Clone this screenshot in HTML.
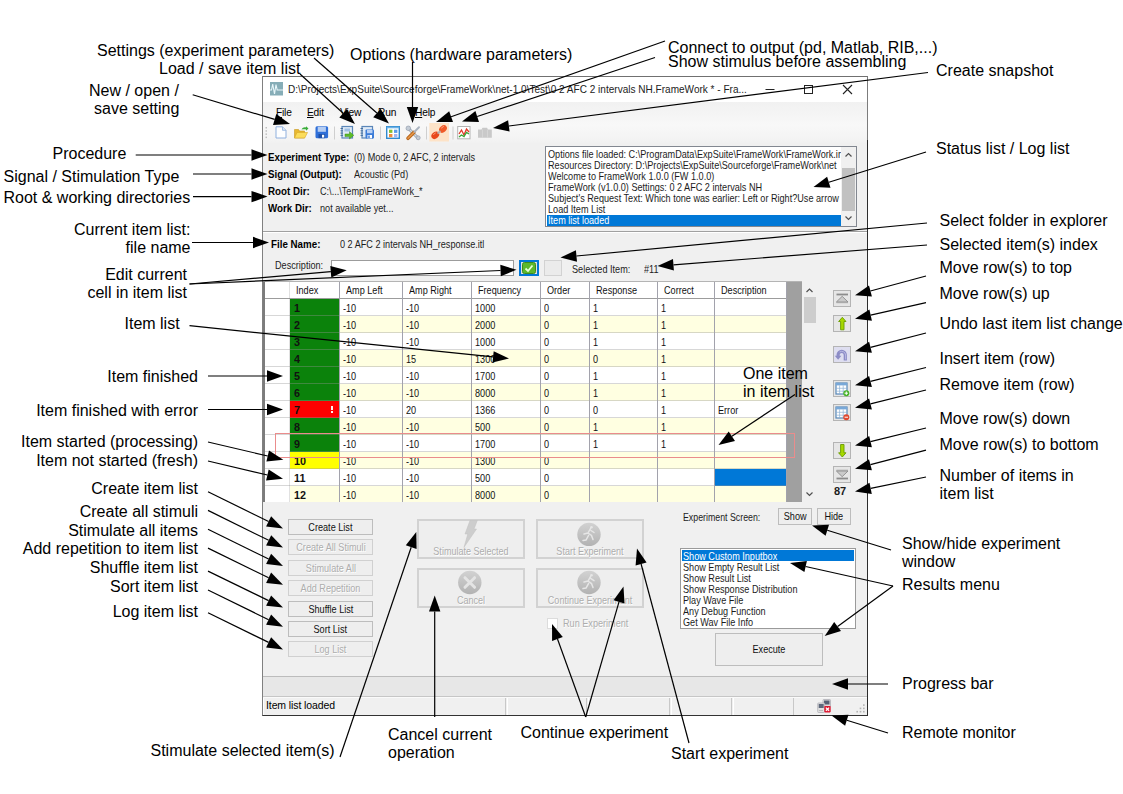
<!DOCTYPE html>
<html><head><meta charset="utf-8"><title>FrameWork GUI</title>
<style>
*{box-sizing:border-box;margin:0;padding:0}
html,body{width:1123px;height:794px;background:#fff;overflow:hidden}
body{position:relative;font-family:"Liberation Sans",sans-serif;color:#000}
.a{position:absolute;white-space:nowrap}
.ann{position:absolute;white-space:nowrap;font-size:16px;line-height:18px;color:#000}
.ann.r{text-align:right}
#win{position:absolute;left:262px;top:76px;width:606px;height:640px;background:#f0f0f0;border:1px solid;border-color:#707070 #7c7c7c #333 #808080}
#title{position:absolute;left:263px;top:77px;width:604px;height:25px;background:#fff}
.w{position:absolute;white-space:nowrap;font-size:10.5px;line-height:12px;color:#1c1c1c;transform:scaleX(0.868);transform-origin:0 0}
.w.wb{font-weight:bold;color:#000;transform:scaleX(0.93)}
.seg{position:absolute;white-space:nowrap;font-size:10.2px;line-height:14px;color:#000;letter-spacing:-0.2px}
.btn{position:absolute;border:1.5px solid #bdbdbd;background:#eeeeee;color:#111;font-size:10.5px;line-height:14px;text-align:center;white-space:nowrap}
.btn span{display:inline-block;transform:scaleX(0.868)}
.btn.dis{color:#adadad;border-color:#d0d0d0;background:#eeeeee;text-shadow:0.7px 0.700px 0 #fff}
.big{position:absolute;border:2px solid #d2d2d2;background:#eeeeee;color:#adadad;font-size:10.5px;text-align:center;text-shadow:0.7px 0.700px 0 #fff;white-space:nowrap}
.big span{position:absolute;left:-10px;right:-10px;bottom:0px;line-height:12px;transform:scaleX(0.86)}
.sb{position:absolute;border:1px solid #b4b4b4;background:#e6e6e6;width:18px;height:17px}
.tbl{position:absolute;left:265px;top:282px;width:522px;height:220px;overflow:hidden;background:#a0a0a0}
.th{position:absolute;top:0;height:16px;background:#fff;font-size:10.5px;line-height:17px;padding-left:6px;white-space:nowrap;overflow:hidden}
.th span,.td span{display:inline-block;color:#111;transform:scaleX(0.868);transform-origin:0 50%}
.rh{position:absolute;left:0;width:25px;height:17px;background:#fff}
.td{position:absolute;height:17px;font-size:10.5px;line-height:18px;padding-left:3px;white-space:nowrap;overflow:hidden}
.td.ix{font-weight:bold;padding-left:4px;font-size:11px}
.td.ix span{transform:scaleX(0.98)}
.hl{position:absolute;left:0;width:522px;height:1px;background:rgba(150,150,150,0.38)}
.vl{position:absolute;top:0;width:1px;height:220px;background:#a2a2ac}
.ex{position:absolute;right:7px;top:5px;width:2px;height:7px;background:linear-gradient(#fff 0 1.5px,transparent 1.5px 2.3px,#fff 2.3px 3.800px,transparent 3.800px 4.600px,#fff 4.600px 7px);opacity:.95}
.lb{position:absolute;background:#fff;border:1px solid #828790}
.sp{position:absolute;top:698px;height:17px;border-left:1px solid #fff;border-right:1px solid #c8c8c8}
</style></head><body>
<div id="win"></div>
<div id="title"></div>
<div class="a" style="left:867px;top:140px;width:1px;height:576px;background:#2c2c2c"></div>
<!-- title icon -->
<svg class="a" style="left:270px;top:82px" width="13" height="14" viewBox="0 0 13 14"><rect width="13" height="13.500" fill="#86adb7"/><path d="M0 8h1.500l1.200-6 1.800 10 1.500-9.500 1.200 5.500h5.800" stroke="#e8f6fa" stroke-width="1.100" fill="none"/></svg>
<div class="seg" id="ttl" style="left:288px;top:82px;font-size:10.8px;letter-spacing:0;color:#222;transform:scaleX(0.93);transform-origin:0 0">D:\Projects\ExpSuite\Sourceforge\FrameWork\net-1.0\Test\0 2 AFC 2 intervals NH.FrameWork * - Fra...</div>
<svg class="a" style="left:760px;top:80px" width="100" height="18" viewBox="0 0 100 18"><path d="M5.5 9.5h9" stroke="#222" stroke-width="1"/><rect x="44.5" y="5.500" width="8" height="8" fill="none" stroke="#222"/><path d="M83 5l9 9M92 5l-9 9" stroke="#222" stroke-width="1.1"/></svg>
<div class="a" style="left:263px;top:102px;width:604px;height:42px;background:linear-gradient(#f1f1f1,#f8f8f8 55%,#f4f4f4 85%,#f0f0f0)"></div>
<svg class="a" style="left:263px;top:122px" width="240" height="22" viewBox="263 122 240 22">
<!-- grip -->
<g fill="#c0c0c0"><rect x="265.500" y="127" width="1.500" height="1.500"/><rect x="265.500" y="130.200" width="1.500" height="1.500"/><rect x="265.500" y="133.400" width="1.500" height="1.500"/><rect x="265.500" y="136.600" width="1.500" height="1.500"/></g>
<!-- new -->
<path d="M276 126.800h6.500l3.500 3.500v7.700h-10z" fill="#fdfeff" stroke="#8fb0de" stroke-width="1"/><path d="M282.500 126.800v3.500h3.500" fill="#dbe7f7" stroke="#8fb0de" stroke-width="0.800"/>
<!-- open -->
<path d="M294.500 138v-8.500h4l1 1.500h5v7z" fill="#e8b830" stroke="#c89820" stroke-width="0.600"/><path d="M294.500 138l2.500-5.500h10.500l-2.800 5.500z" fill="#fbdc5a" stroke="#d8a828" stroke-width="0.600"/><path d="M301.500 129.500c1-2 3-2.500 4.500-2v-1.200l2.500 2.200-2.500 2.200v-1.200c-1.500-.5-3 0-4.500 0z" fill="#3cae3c"/>
<!-- save -->
<rect x="315.500" y="126.200" width="12.600" height="12" rx="1.500" fill="#2f6fd8"/><rect x="317.700" y="126.800" width="8.200" height="5" fill="#b5cdf2"/><rect x="318.500" y="134" width="6.600" height="4.200" fill="#1e50a8"/><rect x="322" y="134.800" width="2.200" height="2.800" fill="#fff"/>
<path d="M334.500 126.500v13M380.500 126.500v13M426.500 126.500v13M453 126.500v13" stroke="#cfcfcf" stroke-width="1"/>
<!-- load item list -->
<rect x="342" y="126.500" width="10.500" height="11.500" fill="#dfeaf6" stroke="#5a86b8" stroke-width="1.200"/><path d="M340.500 128.500h2.500M340.500 130.800h2.500M340.500 133.100h2.500M340.500 135.400h2.500" stroke="#3c6898" stroke-width="0.900"/><rect x="344.500" y="128.500" width="5.500" height="3" fill="#9fc0e4"/><path d="M345 134h4.500v-2.300l4.300 3.600-4.300 3.600v-2.300h-4.500z" fill="#5cbc28" stroke="#3c8c18" stroke-width="0.500"/>
<!-- save item list -->
<rect x="362" y="126.500" width="10.500" height="11.500" fill="#dfeaf6" stroke="#5a86b8" stroke-width="1.200"/><path d="M360.500 128.500h2.500M360.500 130.800h2.500M360.500 133.100h2.500M360.500 135.400h2.500" stroke="#3c6898" stroke-width="0.900"/><rect x="365.500" y="129.500" width="8.500" height="9" rx="1" fill="#3c7cd8"/><rect x="367" y="130" width="5.500" height="3.200" fill="#b8d0f4"/><rect x="367.500" y="135" width="4.500" height="3.300" fill="#fff"/><rect x="368.300" y="135.500" width="1.400" height="2.500" fill="#3c7cd8"/>
<!-- settings -->
<rect x="386.700" y="126.700" width="12.600" height="11.600" fill="#fff" stroke="#2f8ad0" stroke-width="1.400"/><rect x="386.700" y="126.700" width="12.600" height="1.600" fill="#6ab0e4"/><rect x="389" y="129.700" width="3.400" height="3.200" fill="#86c232"/><rect x="394" y="129.700" width="3.400" height="3.200" fill="#5a9cec"/><rect x="389" y="134" width="3.400" height="3.200" fill="#f08c3c"/><rect x="394" y="134" width="3.400" height="3.200" fill="#a4b4f0"/>
<!-- options: tools -->
<path d="M408.500 128.500l9.500 9.500" stroke="#9aa6b4" stroke-width="3" stroke-linecap="round"/><path d="M408.500 128.500l9.500 9.500" stroke="#d4dce4" stroke-width="1.200" stroke-linecap="round"/><circle cx="408.300" cy="128.300" r="2.300" fill="#c4ccd6" stroke="#8a94a4" stroke-width="0.600"/><circle cx="418.200" cy="137.800" r="2" fill="#c4ccd6" stroke="#8a94a4" stroke-width="0.600"/>
<path d="M408 138.300l5.800-5.800" stroke="#b86820" stroke-width="3.600" stroke-linecap="round"/><path d="M408 138.300l5.800-5.800" stroke="#e89848" stroke-width="1.500" stroke-linecap="round"/><path d="M414.500 131.800l4.500-4.500" stroke="#aab4c0" stroke-width="2" stroke-linecap="round"/>
<!-- connect -->
<rect x="429.300" y="123" width="19.700" height="18.500" fill="#fde3c8"/>
<ellipse cx="435.300" cy="135.300" rx="4.300" ry="3.200" transform="rotate(-40 435.300 135.300)" fill="#e8481c"/><ellipse cx="443" cy="129" rx="4.300" ry="3.200" transform="rotate(-40 443 129)" fill="#f05a28"/><path d="M437.500 133.500l3-2.500" stroke="#b0b0b0" stroke-width="1.800"/><path d="M433.500 134.500l2-1.500" stroke="#ff9a70" stroke-width="1" stroke-linecap="round"/><path d="M441.500 128l2-1.500" stroke="#ffa080" stroke-width="1" stroke-linecap="round"/>
<!-- show stimulus -->
<rect x="457.700" y="126.500" width="12.300" height="12.300" fill="#fff" stroke="#b4b4b4" stroke-width="1"/><path d="M459 134l2.500-4 2.500 5 2.500-6 2.500 3" stroke="#e03828" stroke-width="1.300" fill="none"/><path d="M459 137l2.500-2 2.500 1.500 2.500-4 2.500 1.500" stroke="#38a838" stroke-width="1.300" fill="none"/>
<!-- snapshot disabled -->
<path d="M478 129.500h3.500l1-1.800h4.500l1 1.800h3.800v8.300h-13.800z" fill="#c9c9c9"/><path d="M482.500 129.500v8.300M487.500 129.500v8.300" stroke="#d8d8d8" stroke-width="0.800"/>
</svg>

<!-- menu -->
<div class="seg" style="left:276px;top:106px"><u>F</u>ile</div>
<div class="seg" style="left:307px;top:106px"><u>E</u>dit</div>
<div class="seg" style="left:340px;top:106px"><u>V</u>iew</div>
<div class="seg" style="left:378px;top:106px"><u>R</u>un</div>
<div class="seg" style="left:415px;top:106px"><u>H</u>elp</div>
<!-- info labels -->
<div class="w wb" style="left:268px;top:151px">Experiment Type:</div><div class="w" style="left:354px;top:151px">(0) Mode 0, 2 AFC, 2 intervals</div>
<div class="w wb" style="left:268px;top:168px">Signal (Output):</div><div class="w" style="left:354px;top:168px">Acoustic (Pd)</div>
<div class="w wb" style="left:268px;top:185px">Root Dir:</div><div class="w" style="left:320px;top:185px">C:\...\Temp\FrameWork_*</div>
<div class="w wb" style="left:268px;top:202px">Work Dir:</div><div class="w" style="left:320px;top:202px">not available yet...</div>
<!-- log list -->
<div class="lb" style="left:545px;top:146px;width:312px;height:81px"></div>
<div class="a" style="left:547px;top:215px;width:294px;height:11px;background:#0078d7"></div>
<div class="w" id="log" style="left:548px;top:149px;line-height:11px">Options file loaded: C:\ProgramData\ExpSuite\FrameWork\FrameWork.ir<br>Resources Directory: D:\Projects\ExpSuite\Sourceforge\FrameWork\net<br>Welcome to FrameWork 1.0.0 (FW 1.0.0)<br>FrameWork (v1.0.0) Settings: 0 2 AFC 2 intervals NH<br>Subject's Request Text: Which tone was earlier: Left or Right?Use arrow<br>Load Item List<br><span style="color:#fff">Item list loaded</span></div>
<div class="a" style="left:841px;top:147px;width:15px;height:79px;background:#f0f0f0"></div>
<div class="a" style="left:842px;top:168px;width:13px;height:43px;background:#c1c1c1"></div>
<svg class="a" style="left:841px;top:147px" width="15" height="79" viewBox="0 0 15 79"><path d="M4.500 9.500l3-3 3 3M4.500 69.500l3 3 3-3" stroke="#505050" stroke-width="1.200" fill="none"/></svg>
<!-- group line -->
<div class="a" style="left:263px;top:231px;width:604px;height:1px;background:#a0a0a0"></div>
<div class="a" style="left:263px;top:232px;width:604px;height:1px;background:#fff"></div>
<div class="w wb" style="left:271px;top:238px">File Name:</div><div class="w" style="left:340px;top:238px">0 2 AFC 2 intervals NH_response.itl</div>
<div class="w" style="left:275px;top:259px">Description:</div>
<div class="a" style="left:331px;top:260px;width:183px;height:16px;background:#fff;border:1px solid #9c9c9c"></div>
<div class="a" style="left:519px;top:260px;width:20px;height:16px;background:#e1e1e1;border:2px solid #0078d7"></div>
<svg class="a" style="left:522px;top:262px" width="14" height="12" viewBox="0 0 14 12"><rect x="0.500" y="0.500" width="13" height="11" rx="2" fill="#5cb82c" stroke="#3c8c1c"/><path d="M3.500 6.500l2.500 2.500 4.500-5.500" stroke="#e8ffd8" stroke-width="1.800" fill="none"/></svg>
<div class="a" style="left:544px;top:260px;width:18px;height:16px;background:#ebebeb;border:1.5px solid #d2d2d2"></div>
<div class="w" style="left:572px;top:263px">Selected Item:</div><div class="w" style="left:644px;top:263px">#11</div>
<div class="tbl">
<div class="th" style="left:0px;width:25px"><span></span></div>
<div class="th" style="left:25px;width:50px"><span>Index</span></div>
<div class="th" style="left:75px;width:63px"><span>Amp Left</span></div>
<div class="th" style="left:138px;width:69px"><span>Amp Right</span></div>
<div class="th" style="left:207px;width:69px"><span>Frequency</span></div>
<div class="th" style="left:276px;width:49px"><span>Order</span></div>
<div class="th" style="left:325px;width:68px"><span>Response</span></div>
<div class="th" style="left:393px;width:57px"><span>Correct</span></div>
<div class="th" style="left:450px;width:72px"><span>Description</span></div>
<div class="rh" style="top:17px"></div>
<div class="td ix" style="top:17px;left:25px;width:50px;background:#0b820b"><span>1</span></div>
<div class="td" style="top:17px;left:75px;width:63px;background:#ffffff"><span>-10</span></div>
<div class="td" style="top:17px;left:138px;width:69px;background:#ffffff"><span>-10</span></div>
<div class="td" style="top:17px;left:207px;width:69px;background:#ffffff"><span>1000</span></div>
<div class="td" style="top:17px;left:276px;width:49px;background:#ffffff"><span>0</span></div>
<div class="td" style="top:17px;left:325px;width:68px;background:#ffffff"><span>1</span></div>
<div class="td" style="top:17px;left:393px;width:57px;background:#ffffff"><span>1</span></div>
<div class="td" style="top:17px;left:450px;width:72px;background:#ffffff"></div>
<div class="rh" style="top:34px"></div>
<div class="td ix" style="top:34px;left:25px;width:50px;background:#0b820b"><span>2</span></div>
<div class="td" style="top:34px;left:75px;width:63px;background:#ffffe1"><span>-10</span></div>
<div class="td" style="top:34px;left:138px;width:69px;background:#ffffe1"><span>-10</span></div>
<div class="td" style="top:34px;left:207px;width:69px;background:#ffffe1"><span>2000</span></div>
<div class="td" style="top:34px;left:276px;width:49px;background:#ffffe1"><span>0</span></div>
<div class="td" style="top:34px;left:325px;width:68px;background:#ffffe1"><span>1</span></div>
<div class="td" style="top:34px;left:393px;width:57px;background:#ffffe1"><span>1</span></div>
<div class="td" style="top:34px;left:450px;width:72px;background:#ffffe1"></div>
<div class="rh" style="top:51px"></div>
<div class="td ix" style="top:51px;left:25px;width:50px;background:#0b820b"><span>3</span></div>
<div class="td" style="top:51px;left:75px;width:63px;background:#ffffff"><span>-10</span></div>
<div class="td" style="top:51px;left:138px;width:69px;background:#ffffff"><span>-10</span></div>
<div class="td" style="top:51px;left:207px;width:69px;background:#ffffff"><span>1000</span></div>
<div class="td" style="top:51px;left:276px;width:49px;background:#ffffff"><span>0</span></div>
<div class="td" style="top:51px;left:325px;width:68px;background:#ffffff"><span>1</span></div>
<div class="td" style="top:51px;left:393px;width:57px;background:#ffffff"><span>1</span></div>
<div class="td" style="top:51px;left:450px;width:72px;background:#ffffff"></div>
<div class="rh" style="top:68px"></div>
<div class="td ix" style="top:68px;left:25px;width:50px;background:#0b820b"><span>4</span></div>
<div class="td" style="top:68px;left:75px;width:63px;background:#ffffe1"><span>-10</span></div>
<div class="td" style="top:68px;left:138px;width:69px;background:#ffffe1"><span>15</span></div>
<div class="td" style="top:68px;left:207px;width:69px;background:#ffffe1"><span>1300</span></div>
<div class="td" style="top:68px;left:276px;width:49px;background:#ffffe1"><span>0</span></div>
<div class="td" style="top:68px;left:325px;width:68px;background:#ffffe1"><span>0</span></div>
<div class="td" style="top:68px;left:393px;width:57px;background:#ffffe1"><span>1</span></div>
<div class="td" style="top:68px;left:450px;width:72px;background:#ffffe1"></div>
<div class="rh" style="top:85px"></div>
<div class="td ix" style="top:85px;left:25px;width:50px;background:#0b820b"><span>5</span></div>
<div class="td" style="top:85px;left:75px;width:63px;background:#ffffff"><span>-10</span></div>
<div class="td" style="top:85px;left:138px;width:69px;background:#ffffff"><span>-10</span></div>
<div class="td" style="top:85px;left:207px;width:69px;background:#ffffff"><span>1700</span></div>
<div class="td" style="top:85px;left:276px;width:49px;background:#ffffff"><span>0</span></div>
<div class="td" style="top:85px;left:325px;width:68px;background:#ffffff"><span>1</span></div>
<div class="td" style="top:85px;left:393px;width:57px;background:#ffffff"><span>1</span></div>
<div class="td" style="top:85px;left:450px;width:72px;background:#ffffff"></div>
<div class="rh" style="top:102px"></div>
<div class="td ix" style="top:102px;left:25px;width:50px;background:#0b820b"><span>6</span></div>
<div class="td" style="top:102px;left:75px;width:63px;background:#ffffe1"><span>-10</span></div>
<div class="td" style="top:102px;left:138px;width:69px;background:#ffffe1"><span>-10</span></div>
<div class="td" style="top:102px;left:207px;width:69px;background:#ffffe1"><span>8000</span></div>
<div class="td" style="top:102px;left:276px;width:49px;background:#ffffe1"><span>0</span></div>
<div class="td" style="top:102px;left:325px;width:68px;background:#ffffe1"><span>1</span></div>
<div class="td" style="top:102px;left:393px;width:57px;background:#ffffe1"><span>1</span></div>
<div class="td" style="top:102px;left:450px;width:72px;background:#ffffe1"></div>
<div class="rh" style="top:119px"></div>
<div class="td ix" style="top:119px;left:25px;width:50px;background:#ff0000"><span>7</span><i class="ex"></i></div>
<div class="td" style="top:119px;left:75px;width:63px;background:#ffffff"><span>-10</span></div>
<div class="td" style="top:119px;left:138px;width:69px;background:#ffffff"><span>20</span></div>
<div class="td" style="top:119px;left:207px;width:69px;background:#ffffff"><span>1366</span></div>
<div class="td" style="top:119px;left:276px;width:49px;background:#ffffff"><span>0</span></div>
<div class="td" style="top:119px;left:325px;width:68px;background:#ffffff"><span>0</span></div>
<div class="td" style="top:119px;left:393px;width:57px;background:#ffffff"><span>1</span></div>
<div class="td" style="top:119px;left:450px;width:72px;background:#ffffff"><span>Error</span></div>
<div class="rh" style="top:136px"></div>
<div class="td ix" style="top:136px;left:25px;width:50px;background:#0b820b"><span>8</span></div>
<div class="td" style="top:136px;left:75px;width:63px;background:#ffffe1"><span>-10</span></div>
<div class="td" style="top:136px;left:138px;width:69px;background:#ffffe1"><span>-10</span></div>
<div class="td" style="top:136px;left:207px;width:69px;background:#ffffe1"><span>500</span></div>
<div class="td" style="top:136px;left:276px;width:49px;background:#ffffe1"><span>0</span></div>
<div class="td" style="top:136px;left:325px;width:68px;background:#ffffe1"><span>1</span></div>
<div class="td" style="top:136px;left:393px;width:57px;background:#ffffe1"><span>1</span></div>
<div class="td" style="top:136px;left:450px;width:72px;background:#ffffe1"></div>
<div class="rh" style="top:153px"></div>
<div class="td ix" style="top:153px;left:25px;width:50px;background:#0b820b"><span>9</span></div>
<div class="td" style="top:153px;left:75px;width:63px;background:#ffffff"><span>-10</span></div>
<div class="td" style="top:153px;left:138px;width:69px;background:#ffffff"><span>-10</span></div>
<div class="td" style="top:153px;left:207px;width:69px;background:#ffffff"><span>1700</span></div>
<div class="td" style="top:153px;left:276px;width:49px;background:#ffffff"><span>0</span></div>
<div class="td" style="top:153px;left:325px;width:68px;background:#ffffff"><span>1</span></div>
<div class="td" style="top:153px;left:393px;width:57px;background:#ffffff"><span>1</span></div>
<div class="td" style="top:153px;left:450px;width:72px;background:#ffffff"></div>
<div class="rh" style="top:170px"></div>
<div class="td ix" style="top:170px;left:25px;width:50px;background:#ffff00"><span>10</span></div>
<div class="td" style="top:170px;left:75px;width:63px;background:#ffffe1"><span>-10</span></div>
<div class="td" style="top:170px;left:138px;width:69px;background:#ffffe1"><span>-10</span></div>
<div class="td" style="top:170px;left:207px;width:69px;background:#ffffe1"><span>1300</span></div>
<div class="td" style="top:170px;left:276px;width:49px;background:#ffffe1"><span>0</span></div>
<div class="td" style="top:170px;left:325px;width:68px;background:#ffffe1"></div>
<div class="td" style="top:170px;left:393px;width:57px;background:#ffffe1"></div>
<div class="td" style="top:170px;left:450px;width:72px;background:#ffffe1"></div>
<div class="rh" style="top:187px"></div>
<div class="td ix" style="top:187px;left:25px;width:50px;background:#ffffff"><span>11</span></div>
<div class="td" style="top:187px;left:75px;width:63px;background:#ffffff"><span>-10</span></div>
<div class="td" style="top:187px;left:138px;width:69px;background:#ffffff"><span>-10</span></div>
<div class="td" style="top:187px;left:207px;width:69px;background:#ffffff"><span>500</span></div>
<div class="td" style="top:187px;left:276px;width:49px;background:#ffffff"><span>0</span></div>
<div class="td" style="top:187px;left:325px;width:68px;background:#ffffff"></div>
<div class="td" style="top:187px;left:393px;width:57px;background:#ffffff"></div>
<div class="td" style="top:187px;left:450px;width:72px;background:#0078d7"></div>
<div class="rh" style="top:204px"></div>
<div class="td ix" style="top:204px;left:25px;width:50px;background:#ffffe1"><span>12</span></div>
<div class="td" style="top:204px;left:75px;width:63px;background:#ffffe1"><span>-10</span></div>
<div class="td" style="top:204px;left:138px;width:69px;background:#ffffe1"><span>-10</span></div>
<div class="td" style="top:204px;left:207px;width:69px;background:#ffffe1"><span>8000</span></div>
<div class="td" style="top:204px;left:276px;width:49px;background:#ffffe1"><span>0</span></div>
<div class="td" style="top:204px;left:325px;width:68px;background:#ffffe1"></div>
<div class="td" style="top:204px;left:393px;width:57px;background:#ffffe1"></div>
<div class="td" style="top:204px;left:450px;width:72px;background:#ffffe1"></div>
<div class="hl" style="top:16px"></div>
<div class="hl" style="top:33px"></div>
<div class="hl" style="top:50px"></div>
<div class="hl" style="top:67px"></div>
<div class="hl" style="top:84px"></div>
<div class="hl" style="top:101px"></div>
<div class="hl" style="top:118px"></div>
<div class="hl" style="top:135px"></div>
<div class="hl" style="top:152px"></div>
<div class="hl" style="top:169px"></div>
<div class="hl" style="top:186px"></div>
<div class="hl" style="top:203px"></div>
<div class="hl" style="top:220px"></div>
<div class="vl" style="left:24px;background:rgba(120,120,120,0.22)"></div>
<div class="vl" style="left:74px"></div>
<div class="vl" style="left:137px"></div>
<div class="vl" style="left:206px"></div>
<div class="vl" style="left:275px"></div>
<div class="vl" style="left:324px"></div>
<div class="vl" style="left:392px"></div>
<div class="vl" style="left:449px"></div>
<div class="vl" style="left:521px"></div>
</div>
<!-- table right grey strip & scrollbar -->
<div class="a" style="left:263px;top:281px;width:539px;height:1px;background:#b4b4b4"></div>
<div class="a" style="left:263px;top:282px;width:2px;height:220px;background:#7c7c7c"></div>
<div class="a" style="left:787px;top:282px;width:15px;height:220px;background:#a0a0a0"></div>
<div class="a" style="left:802px;top:282px;width:15px;height:220px;background:#f0f0f0"></div>
<div class="a" style="left:804px;top:297px;width:12px;height:26px;background:#cdcdcd"></div>
<svg class="a" style="left:802px;top:282px" width="15" height="220" viewBox="0 0 15 220"><path d="M4.500 10l3-3 3 3M4.500 210.500l3 3 3-3" stroke="#505050" stroke-width="1.200" fill="none"/></svg>
<!-- red selection rect -->
<div class="a" style="left:275px;top:433px;width:520px;height:25px;border:1px solid #ea8c8c"></div>
<div class="sb" style="left:833px;top:290px"></div>
<div class="sb" style="left:833px;top:315px"></div>
<div class="sb" style="left:833px;top:346px;background:#dedef0"></div>
<div class="sb" style="left:833px;top:380px"></div>
<div class="sb" style="left:833px;top:404px"></div>
<div class="sb" style="left:833px;top:442px"></div>
<div class="sb" style="left:833px;top:466px"></div>
<svg class="a" style="left:833px;top:288px" width="18" height="200" viewBox="833 288 18 200">
<!-- top -->
<path d="M836.500 294.500h11.500" stroke="#8c8c8c" stroke-width="1.800"/><path d="M842.200 296.300l5.800 5.700h-11.600z" fill="#cacaca" stroke="#8c8c8c" stroke-width="0.900"/><path d="M836.500 302.700h11.500" stroke="#a0a0a0" stroke-width="0.800"/>
<!-- up -->
<path d="M842.300 317.300l3.700 4.200h-2v8.300h-3.400v-8.300h-2z" fill="#a6d800" stroke="#6a9c00" stroke-width="0.900" stroke-linejoin="round"/>
<!-- undo -->
<path d="M845.3 360.500V355a3.600 3.600 0 0 0-7.200 0v1.500" stroke="#8c8cc6" stroke-width="3.200" fill="none"/><path d="M834.800 355.800h6.600l-3.300 4z" fill="#8c8cc6"/><path d="M845.600 359.500V355a3.900 3.900 0 0 0-6-3" stroke="#c0c0e6" stroke-width="0.900" fill="none"/>
<!-- insert -->
<rect x="836" y="383" width="11" height="11" fill="#fff" stroke="#5888b8" stroke-width="1.200"/><rect x="836" y="383" width="11" height="2.400" fill="#78a8d8"/><path d="M839.600 385.400v8.600M843.200 385.400v8.600M836 388.300h11M836 391.200h11" stroke="#8cb0d4" stroke-width="0.700"/><circle cx="846.300" cy="393.200" r="3" fill="#48b428"/><path d="M844.600 393.200h3.400M846.300 391.500v3.400" stroke="#fff" stroke-width="1"/>
<!-- remove -->
<rect x="836" y="407" width="11" height="11" fill="#fff" stroke="#5888b8" stroke-width="1.200"/><rect x="836" y="407" width="11" height="2.400" fill="#78a8d8"/><path d="M839.600 409.400v8.600M843.200 409.400v8.600M836 412.300h11M836 415.200h11" stroke="#8cb0d4" stroke-width="0.700"/><circle cx="846.300" cy="417.200" r="3" fill="#e04830"/><path d="M844.600 417.200h3.400" stroke="#fff" stroke-width="1"/>
<!-- down -->
<path d="M842.300 457l3.700-4.200h-2v-8.300h-3.400v8.300h-2z" fill="#a6d800" stroke="#6a9c00" stroke-width="0.900" stroke-linejoin="round"/>
<!-- bottom -->
<path d="M836.500 470.200h11.500" stroke="#a0a0a0" stroke-width="0.800"/><path d="M842.200 476.700l5.800-5.700h-11.600z" fill="#cacaca" stroke="#8c8c8c" stroke-width="0.900"/><path d="M836.500 478.500h11.500" stroke="#8c8c8c" stroke-width="1.800"/>
</svg>

<div class="w" style="left:834px;top:485px;font-weight:bold;font-size:11px;transform:none">87</div>
<!-- left buttons -->
<div class="btn" style="left:288px;top:519px;width:85px;height:16px"><span>Create List</span></div>
<div class="btn dis" style="left:288px;top:539px;width:85px;height:16px"><span>Create All Stimuli</span></div>
<div class="btn dis" style="left:288px;top:560px;width:85px;height:16px"><span>Stimulate All</span></div>
<div class="btn dis" style="left:288px;top:580px;width:85px;height:16px"><span>Add Repetition</span></div>
<div class="btn" style="left:288px;top:601px;width:85px;height:16px"><span>Shuffle List</span></div>
<div class="btn" style="left:288px;top:621px;width:85px;height:16px"><span>Sort List</span></div>
<div class="btn dis" style="left:288px;top:641px;width:85px;height:16px"><span>Log List</span></div>
<!-- big buttons -->
<div class="big" style="left:417px;top:519px;width:108px;height:40px"><span>Stimulate Selected</span></div>
<div class="big" style="left:417px;top:568px;width:108px;height:40px"><span>Cancel</span></div>
<div class="big" style="left:536px;top:519px;width:108px;height:40px"><span>Start Experiment</span></div>
<div class="big" style="left:536px;top:568px;width:108px;height:40px"><span>Continue Experiment</span></div>
<svg class="a" style="left:417px;top:519px" width="228" height="90" viewBox="417 519 228 90">
<defs><linearGradient id="gg" x1="0" y1="0" x2="0" y2="1"><stop offset="0" stop-color="#d2d2d2"/><stop offset="1" stop-color="#b2b2b2"/></linearGradient></defs>
<path d="M470 520.500h7.300l-3.300 8.500h2.500l-12.500 18.300 3.800-13.300h-2.800z" fill="#cdcdcd" stroke="#c0c0c0" stroke-width="0.500"/>
<circle cx="469.800" cy="582.500" r="11.700" fill="url(#gg)"/><path d="M465 577.700l9.600 9.600M474.600 577.700l-9.600 9.600" stroke="#e4e4e4" stroke-width="3" stroke-linecap="round"/>
<circle cx="589" cy="534.400" r="11.700" fill="url(#gg)"/><path d="M590.500 528.500l-2.500 4.500 3.500 2.500 1.500 4M588 533l-4 1M588.500 535.500l-2.500 4.500-3 .5M591 530.500l3 2" stroke="#e6e6e6" stroke-width="1.500" fill="none" stroke-linecap="round"/><circle cx="591.500" cy="527.200" r="1.300" fill="#e6e6e6"/>
<circle cx="589" cy="582.500" r="11.700" fill="url(#gg)"/><path d="M590.500 576.600l-2.500 4.500 3.500 2.500 1.500 4M588 581.100l-4 1M588.500 583.600l-2.500 4.500-3 .5M591 578.600l3 2" stroke="#e6e6e6" stroke-width="1.500" fill="none" stroke-linecap="round"/><circle cx="591.500" cy="575.300" r="1.300" fill="#e6e6e6"/>
</svg>

<div class="a" style="left:547px;top:618px;width:11px;height:11px;background:#fff;border:1px solid #dcdcdc"></div>
<div class="w" style="left:563px;top:617px;color:#adadad;text-shadow:0.7px 0.700px 0 #fff">Run Experiment</div>
<!-- experiment screen -->
<div class="w" style="left:683px;top:511px;transform:scaleX(0.838)">Experiment Screen:</div>
<div class="btn" style="left:778px;top:508px;width:34px;height:17px;line-height:15px"><span>Show</span></div>
<div class="btn" style="left:817px;top:508px;width:34px;height:17px;line-height:15px"><span>Hide</span></div>
<!-- results list -->
<div class="lb" style="left:680px;top:548px;width:176px;height:81px;border-color:#9a9a9a"></div>
<div class="a" style="left:682px;top:550px;width:172px;height:11px;background:#0078d7"></div>
<div class="w" id="res" style="left:683px;top:551px;line-height:11px"><span style="color:#fff">Show Custom Inputbox</span><br>Show Empty Result List<br>Show Result List<br>Show Response Distribution<br>Play Wave File<br>Any Debug Function<br>Get Wav File Info</div>
<div class="btn" style="left:715px;top:633px;width:108px;height:33px;line-height:31px"><span>Execute</span></div>
<!-- progress bar -->
<div class="a" style="left:263px;top:676px;width:604px;height:21px;background:#e7e7e7;border-top:1px solid #bcbcbc;border-bottom:1px solid #c6c6c6"></div>
<!-- status bar -->
<div class="a" style="left:263px;top:697px;width:604px;height:18px;background:#f0f0f0;border-top:1px solid #fafafa"></div>
<div class="sp" style="left:263px;width:243px"></div>
<div class="sp" style="left:507px;width:80px"></div>
<div class="sp" style="left:588px;width:82px"></div>
<div class="sp" style="left:671px;width:61px"></div>
<div class="sp" style="left:733px;width:61px"></div>
<div class="seg" style="left:266px;top:698px;font-size:10.5px;letter-spacing:-0.1px">Item list loaded</div>
<svg class="a" style="left:816px;top:698px" width="52" height="17" viewBox="816 698 52 17">
<rect x="823" y="699.500" width="7.500" height="7.500" rx="0.800" fill="#dcdcdc" stroke="#a8a8b0" stroke-width="0.700"/><rect x="824" y="700.500" width="5.500" height="4" fill="#566074"/>
<rect x="817.700" y="703" width="7" height="9.500" rx="0.800" fill="#e0e0e0" stroke="#a8a8b0" stroke-width="0.700"/><rect x="818.700" y="704" width="5" height="4" fill="#5e687c"/><path d="M819 710.500h4" stroke="#b0b0b0" stroke-width="0.800"/>
<rect x="824.300" y="706" width="6.400" height="6.400" rx="0.800" fill="#dc1830"/><path d="M825.900 707.600l3.200 3.200M829.100 707.600l-3.200 3.200" stroke="#fff" stroke-width="1.300"/>
<g fill="#b4b4b4"><rect x="863" y="704.300" width="1.600" height="1.600"/><rect x="863" y="707.600" width="1.600" height="1.600"/><rect x="863" y="710.900" width="1.600" height="1.600"/><rect x="859.700" y="707.600" width="1.600" height="1.600"/><rect x="859.700" y="710.900" width="1.600" height="1.600"/><rect x="856.400" y="710.900" width="1.600" height="1.600"/></g>
</svg>

<div class="ann" style="left:97px;top:42px">Settings (experiment parameters)</div>
<div class="ann" style="left:159px;top:60px">Load / save item list</div>
<div class="ann" style="left:89px;top:82px">New / open /</div>
<div class="ann" style="left:94px;top:100px">save setting</div>
<div class="ann" style="left:350px;top:46px">Options (hardware parameters)</div>
<div class="ann" style="left:668px;top:39px">Connect to output (pd, Matlab, RIB,...)</div>
<div class="ann" style="left:668px;top:53px">Show stimulus before assembling</div>
<div class="ann" style="left:936px;top:62px">Create snapshot</div>
<div class="ann" style="left:52.5px;top:145px">Procedure</div>
<div class="ann" style="left:3.5px;top:168px">Signal / Stimulation Type</div>
<div class="ann" style="left:3.5px;top:189px">Root &amp; working directories</div>
<div class="ann r" style="right:932.5px;top:221px">Current item list:</div>
<div class="ann r" style="right:932.5px;top:239px">file name</div>
<div class="ann r" style="right:936px;top:266px">Edit current</div>
<div class="ann r" style="right:936px;top:284px">cell in item list</div>
<div class="ann" style="left:124.5px;top:315px">Item list</div>
<div class="ann r" style="right:925px;top:368px">Item finished</div>
<div class="ann r" style="right:925px;top:402px">Item finished with error</div>
<div class="ann r" style="right:925px;top:433px">Item started (processing)</div>
<div class="ann r" style="right:925px;top:452px">Item not started (fresh)</div>
<div class="ann r" style="right:925px;top:480px">Create item list</div>
<div class="ann r" style="right:925px;top:503px">Create all stimuli</div>
<div class="ann r" style="right:925px;top:522px">Stimulate all items</div>
<div class="ann r" style="right:925px;top:540px">Add repetition to item list</div>
<div class="ann r" style="right:925px;top:559px">Shuffle item list</div>
<div class="ann r" style="right:925px;top:578px">Sort item list</div>
<div class="ann r" style="right:925px;top:603px">Log item list</div>
<div class="ann" style="left:936px;top:140px">Status list / Log list</div>
<div class="ann" style="left:939.5px;top:212px">Select folder in explorer</div>
<div class="ann" style="left:939.5px;top:236px">Selected item(s) index</div>
<div class="ann" style="left:939.5px;top:259px">Move row(s) to top</div>
<div class="ann" style="left:939.5px;top:285px">Move row(s) up</div>
<div class="ann" style="left:939.5px;top:315px">Undo last item list change</div>
<div class="ann" style="left:939.5px;top:350px">Insert item (row)</div>
<div class="ann" style="left:939.5px;top:376px">Remove item (row)</div>
<div class="ann" style="left:939.5px;top:410px">Move row(s) down</div>
<div class="ann" style="left:939.5px;top:436px">Move row(s) to bottom</div>
<div class="ann" style="left:939.5px;top:467px">Number of items in</div>
<div class="ann" style="left:939.5px;top:485px">item list</div>
<div class="ann" style="left:743px;top:365px">One item</div>
<div class="ann" style="left:743px;top:383px">in item list</div>
<div class="ann" style="left:902px;top:535px">Show/hide experiment</div>
<div class="ann" style="left:902px;top:553px">window</div>
<div class="ann" style="left:902px;top:576px">Results menu</div>
<div class="ann" style="left:902px;top:675px">Progress bar</div>
<div class="ann" style="left:902px;top:724px">Remote monitor</div>
<div class="ann" style="left:671px;top:745px">Start experiment</div>
<div class="ann" style="left:520.5px;top:724px">Continue experiment</div>
<div class="ann" style="left:388px;top:726px">Cancel current</div>
<div class="ann" style="left:388px;top:744px">operation</div>
<div class="ann" style="left:150.5px;top:742px">Stimulate selected item(s)</div>
<svg class="a" style="left:0;top:0" width="1123" height="794" viewBox="0 0 1123 794">
<path d="M192.7 94.8L274.7 119.4" stroke="#000" stroke-width="1.200"/>
<path d="M290.0 124.0L273.0 124.9L276.3 113.9Z" fill="#000"/>
<path d="M300.0 74.0L343.2 113.2" stroke="#000" stroke-width="1.200"/>
<path d="M355.0 124.0L339.3 117.5L347.0 109.0Z" fill="#000"/>
<path d="M314.0 58.0L376.9 113.0" stroke="#000" stroke-width="1.200"/>
<path d="M389.0 123.5L373.2 117.3L380.7 108.7Z" fill="#000"/>
<path d="M412.5 62.0L412.5 107.0" stroke="#000" stroke-width="1.200"/>
<path d="M412.5 123.0L406.8 107.0L418.2 107.0Z" fill="#000"/>
<path d="M665.0 41.0L451.1 116.7" stroke="#000" stroke-width="1.200"/>
<path d="M436.0 122.0L449.2 111.3L453.0 122.0Z" fill="#000"/>
<path d="M655.0 57.5L477.2 116.5" stroke="#000" stroke-width="1.200"/>
<path d="M462.0 121.5L475.4 111.1L479.0 121.9Z" fill="#000"/>
<path d="M928.0 72.5L508.9 126.0" stroke="#000" stroke-width="1.200"/>
<path d="M493.0 128.0L508.1 120.3L509.6 131.6Z" fill="#000"/>
<path d="M926.0 152.0L828.8 182.2" stroke="#000" stroke-width="1.200"/>
<path d="M813.5 187.0L827.1 176.8L830.5 187.7Z" fill="#000"/>
<path d="M927.0 223.0L576.4 256.0" stroke="#000" stroke-width="1.200"/>
<path d="M560.5 257.5L575.9 250.3L577.0 261.7Z" fill="#000"/>
<path d="M927.0 245.0L673.5 264.8" stroke="#000" stroke-width="1.200"/>
<path d="M657.5 266.0L673.0 259.1L673.9 270.4Z" fill="#000"/>
<path d="M926.0 276.0L870.4 291.0" stroke="#000" stroke-width="1.200"/>
<path d="M855.0 295.2L869.0 285.5L871.9 296.5Z" fill="#000"/>
<path d="M926.0 302.7L870.6 315.2" stroke="#000" stroke-width="1.200"/>
<path d="M855.0 318.7L869.4 309.6L871.9 320.7Z" fill="#000"/>
<path d="M926.0 333.0L870.5 347.3" stroke="#000" stroke-width="1.200"/>
<path d="M855.0 351.3L869.1 341.8L871.9 352.8Z" fill="#000"/>
<path d="M926.0 367.5L870.5 381.4" stroke="#000" stroke-width="1.200"/>
<path d="M855.0 385.3L869.1 375.9L871.9 386.9Z" fill="#000"/>
<path d="M926.0 390.0L870.5 403.9" stroke="#000" stroke-width="1.200"/>
<path d="M855.0 407.8L869.1 398.4L871.9 409.4Z" fill="#000"/>
<path d="M926.0 428.0L870.5 441.7" stroke="#000" stroke-width="1.200"/>
<path d="M855.0 445.5L869.2 436.1L871.9 447.2Z" fill="#000"/>
<path d="M926.0 450.2L870.5 464.7" stroke="#000" stroke-width="1.200"/>
<path d="M855.0 468.8L869.0 459.2L871.9 470.3Z" fill="#000"/>
<path d="M926.0 477.0L870.7 488.3" stroke="#000" stroke-width="1.200"/>
<path d="M855.0 491.5L869.5 482.7L871.8 493.9Z" fill="#000"/>
<path d="M795.0 394.5L731.9 436.2" stroke="#000" stroke-width="1.200"/>
<path d="M718.5 445.0L728.7 431.4L735.0 440.9Z" fill="#000"/>
<path d="M891.0 550.0L827.3 530.2" stroke="#000" stroke-width="1.200"/>
<path d="M812.0 525.5L829.0 524.8L825.6 535.7Z" fill="#000"/>
<path d="M893.0 586.0L805.6 566.5" stroke="#000" stroke-width="1.200"/>
<path d="M790.0 563.0L806.9 560.9L804.4 572.0Z" fill="#000"/>
<path d="M893.0 586.0L837.6 626.5" stroke="#000" stroke-width="1.200"/>
<path d="M824.7 636.0L834.2 621.9L841.0 631.1Z" fill="#000"/>
<path d="M888.0 684.0L848.0 684.0" stroke="#000" stroke-width="1.200"/>
<path d="M832.0 684.0L848.0 678.3L848.0 689.7Z" fill="#000"/>
<path d="M888.0 733.0L846.8 720.2" stroke="#000" stroke-width="1.200"/>
<path d="M831.5 715.5L848.5 714.8L845.1 725.7Z" fill="#000"/>
<path d="M689.0 743.0L641.1 564.0" stroke="#000" stroke-width="1.200"/>
<path d="M637.0 548.5L646.6 562.5L635.6 565.4Z" fill="#000"/>
<path d="M585.7 717.0L557.5 639.0" stroke="#000" stroke-width="1.200"/>
<path d="M552.0 624.0L562.8 637.1L552.1 641.0Z" fill="#000"/>
<path d="M585.7 717.0L619.0 601.9" stroke="#000" stroke-width="1.200"/>
<path d="M623.5 586.5L624.5 603.5L613.6 600.3Z" fill="#000"/>
<path d="M434.7 717.0L434.7 611.5" stroke="#000" stroke-width="1.200"/>
<path d="M434.7 595.5L440.4 611.5L429.0 611.5Z" fill="#000"/>
<path d="M340.0 757.0L411.2 547.2" stroke="#000" stroke-width="1.200"/>
<path d="M416.3 532.0L416.6 549.0L405.8 545.3Z" fill="#000"/>
<path d="M135.7 155.0L251.5 155.0" stroke="#000" stroke-width="1.200"/>
<path d="M267.5 155.0L251.5 160.7L251.5 149.3Z" fill="#000"/>
<path d="M193.0 174.0L251.5 174.0" stroke="#000" stroke-width="1.200"/>
<path d="M267.5 174.0L251.5 179.7L251.5 168.3Z" fill="#000"/>
<path d="M193.0 196.6L251.5 196.6" stroke="#000" stroke-width="1.200"/>
<path d="M267.5 196.6L251.5 202.3L251.5 190.9Z" fill="#000"/>
<path d="M192.0 242.5L253.0 242.5" stroke="#000" stroke-width="1.200"/>
<path d="M269.0 242.5L253.0 248.2L253.0 236.8Z" fill="#000"/>
<path d="M189.5 284.0L330.8 271.7" stroke="#000" stroke-width="1.200"/>
<path d="M346.7 270.3L331.3 277.4L330.3 266.0Z" fill="#000"/>
<path d="M189.5 284.0L500.5 270.5" stroke="#000" stroke-width="1.200"/>
<path d="M516.5 269.8L500.8 276.2L500.3 264.8Z" fill="#000"/>
<path d="M189.5 325.7L493.1 356.9" stroke="#000" stroke-width="1.200"/>
<path d="M509.0 358.5L492.5 362.5L493.7 351.2Z" fill="#000"/>
<path d="M208.0 376.0L267.0 376.0" stroke="#000" stroke-width="1.200"/>
<path d="M283.0 376.0L267.0 381.7L267.0 370.3Z" fill="#000"/>
<path d="M208.0 409.5L267.0 409.5" stroke="#000" stroke-width="1.200"/>
<path d="M283.0 409.5L267.0 415.2L267.0 403.8Z" fill="#000"/>
<path d="M208.0 442.0L267.7 456.0" stroke="#000" stroke-width="1.200"/>
<path d="M283.3 459.7L266.4 461.6L269.0 450.5Z" fill="#000"/>
<path d="M208.0 461.0L267.4 475.0" stroke="#000" stroke-width="1.200"/>
<path d="M283.0 478.7L266.1 480.6L268.7 469.5Z" fill="#000"/>
<path d="M208.0 491.8L268.6 521.5" stroke="#000" stroke-width="1.200"/>
<path d="M283.0 528.5L266.1 526.6L271.1 516.3Z" fill="#000"/>
<path d="M208.0 510.4L268.7 540.3" stroke="#000" stroke-width="1.200"/>
<path d="M283.0 547.4L266.1 545.4L271.2 535.2Z" fill="#000"/>
<path d="M208.0 529.3L268.6 559.0" stroke="#000" stroke-width="1.200"/>
<path d="M283.0 566.0L266.1 564.1L271.1 553.8Z" fill="#000"/>
<path d="M208.0 548.1L268.6 577.8" stroke="#000" stroke-width="1.200"/>
<path d="M283.0 584.8L266.1 582.9L271.1 572.6Z" fill="#000"/>
<path d="M208.0 571.1L268.6 600.6" stroke="#000" stroke-width="1.200"/>
<path d="M283.0 607.6L266.1 605.7L271.1 595.5Z" fill="#000"/>
<path d="M208.0 590.0L268.6 619.7" stroke="#000" stroke-width="1.200"/>
<path d="M283.0 626.7L266.1 624.8L271.1 614.5Z" fill="#000"/>
<path d="M208.0 612.7L268.6 642.4" stroke="#000" stroke-width="1.200"/>
<path d="M283.0 649.4L266.1 647.5L271.1 637.2Z" fill="#000"/>
</svg>
</body></html>
